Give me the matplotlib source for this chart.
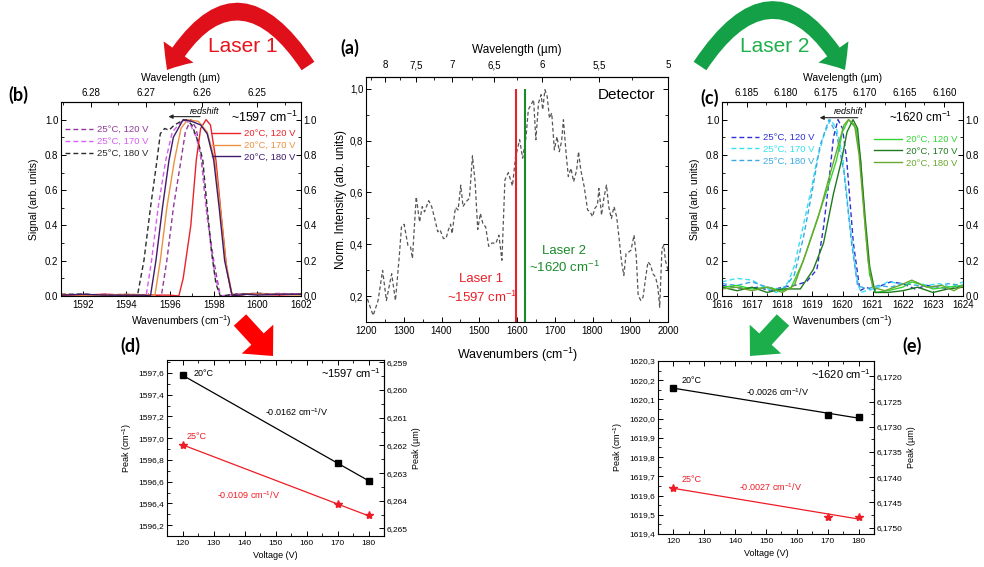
import numpy as np
import matplotlib
matplotlib.use('Agg')
import matplotlib.pyplot as plt
from matplotlib.patches import FancyArrowPatch
from matplotlib.ticker import MultipleLocator, FuncFormatter, FixedLocator

plt.rcParams['font.family'] = ['Liberation Sans', 'DejaVu Sans']
plt.rcParams['mathtext.fontset'] = 'custom'
plt.rcParams['mathtext.rm'] = 'Liberation Sans'
plt.rcParams['mathtext.it'] = 'Liberation Sans:italic'
plt.rcParams['xtick.direction'] = 'in'
plt.rcParams['ytick.direction'] = 'in'
plt.rcParams['axes.linewidth'] = 0.8

# ---------------- data ----------------
# (a) detector spectrum
det_wn = [1200, 1202, 1219, 1232, 1244, 1254, 1268, 1278, 1288, 1294, 1301, 1311, 1318, 1323,
          1333, 1342, 1349, 1355, 1366, 1374, 1383, 1390, 1396, 1405, 1412, 1418, 1424, 1428,
          1437, 1444, 1451, 1457, 1465, 1474, 1482, 1489, 1496, 1503, 1510, 1517, 1525, 1534,
          1544, 1552, 1560, 1568, 1577, 1588, 1596, 1607, 1615, 1624, 1630, 1637, 1644, 1650,
          1657, 1664, 1668, 1674, 1680, 1686, 1692, 1699, 1706, 1712, 1718, 1723, 1730, 1736,
          1743, 1750, 1758, 1763, 1769, 1778, 1787, 1794, 1800, 1806, 1813, 1817, 1824, 1830,
          1837, 1843, 1850, 1857, 1864, 1870, 1877, 1883, 1889, 1896, 1902, 1910, 1916, 1921,
          1928, 1934, 1941, 1947, 1954, 1960, 1967, 1973, 1978, 1984, 1989, 1993, 2000]
det_int = [0.18, 0.196, 0.125, 0.183, 0.299, 0.183, 0.286, 0.183, 0.351, 0.467, 0.477, 0.396, 0.39, 0.345,
           0.583, 0.486, 0.545, 0.525, 0.568, 0.545, 0.493, 0.448, 0.456, 0.422, 0.422, 0.454, 0.477, 0.441,
           0.542, 0.532, 0.628, 0.545, 0.564, 0.577, 0.741, 0.641, 0.457, 0.519, 0.477, 0.467, 0.392, 0.405,
           0.403, 0.435, 0.338, 0.648, 0.676, 0.625, 0.735, 0.803, 0.732, 0.815, 0.919, 0.938, 0.957, 0.803,
           0.945, 0.977, 0.919, 0.996, 0.97, 0.886, 0.906, 0.764, 0.815, 0.757, 0.796, 0.88, 0.751, 0.661,
           0.693, 0.641, 0.686, 0.757, 0.686, 0.622, 0.532, 0.525, 0.506, 0.538, 0.551, 0.615, 0.512, 0.577,
           0.628, 0.545, 0.499, 0.545, 0.506, 0.428, 0.332, 0.28, 0.364, 0.37, 0.377, 0.435, 0.351, 0.203,
           0.183, 0.196, 0.274, 0.332, 0.319, 0.286, 0.274, 0.235, 0.157, 0.383, 0.396, 0.338, 0.3]
laser1_wn = 1597
laser2_wn = 1620

# (b) laser 1 spectra
b_wn_25_120 = [1591, 1592, 1593, 1594, 1595, 1595.6, 1595.85, 1596.15, 1596.5, 1596.7, 1596.95, 1597.2,
               1597.45, 1597.7, 1598.0, 1598.3, 1599, 1600, 1601, 1602]
b_sig_25_120 = [0.005, 0.01, 0.005, 0.01, 0.005, 0.0, 0.2, 0.5, 0.77, 0.93, 1.0, 0.95,
                0.75, 0.45, 0.2, 0.0, 0.01, 0.015, 0.01, 0.01]
b_wn_25_170 = [1591, 1592, 1593, 1594, 1594.6, 1594.9, 1595.15, 1595.45, 1595.8, 1596.1, 1596.6, 1596.9,
               1597.2, 1597.45, 1597.65, 1597.85, 1598.05, 1598.3, 1599, 1600, 1601, 1602]
b_sig_25_170 = [0.01, 0.005, 0.01, 0.005, 0.005, 0.0, 0.2, 0.5, 0.77, 0.93, 1.0, 0.98,
                0.9, 0.77, 0.5, 0.3, 0.12, 0.0, 0.01, 0.01, 0.015, 0.01]
b_wn_25_180 = [1591, 1592, 1593, 1594, 1594.5, 1594.8, 1595.1, 1595.4, 1595.55, 1595.75, 1595.95, 1596.2,
               1596.5, 1596.75, 1597.0, 1597.3, 1597.5, 1597.7, 1597.9, 1598.1, 1598.3, 1599, 1600, 1601, 1602]
b_sig_25_180 = [0.01, 0.01, 0.005, 0.005, 0.0, 0.2, 0.5, 0.77, 0.92, 0.95, 0.94, 0.97,
                0.99, 1.0, 0.97, 0.87, 0.77, 0.5, 0.25, 0.07, 0.0, 0.01, 0.015, 0.01, 0.01]
b_wn_20_120 = [1591, 1592, 1593, 1594, 1595, 1596, 1596.4, 1596.6, 1596.95, 1597.2, 1597.4, 1597.65,
               1597.85, 1598.1, 1598.35, 1598.6, 1598.8, 1598.9, 1599.5, 1600, 1601, 1602]
b_sig_20_120 = [0.005, 0.005, 0.01, 0.005, 0.005, 0.005, 0.0, 0.1, 0.4, 0.77, 0.95, 1.0,
                0.97, 0.77, 0.45, 0.15, 0.02, 0.0, 0.01, 0.01, 0.005, 0.01]
b_wn_20_170 = [1591, 1592, 1593, 1594, 1595, 1595.3, 1595.55, 1595.85, 1596.2, 1596.5, 1596.8, 1597.3,
               1597.7, 1598.05, 1598.3, 1598.55, 1598.85, 1599.5, 1600, 1601, 1602]
b_sig_20_170 = [0.01, 0.005, 0.005, 0.01, 0.005, 0.0, 0.2, 0.5, 0.77, 0.95, 1.0, 0.99,
                0.93, 0.77, 0.5, 0.2, 0.0, 0.01, 0.01, 0.01, 0.005]
b_wn_20_180 = [1591, 1592, 1593, 1594, 1594.8, 1595.1, 1595.35, 1595.65, 1595.95, 1596.15, 1596.6, 1597.0,
               1597.4, 1597.7, 1598.0, 1598.25, 1598.5, 1598.85, 1599.5, 1600, 1601, 1602]
b_sig_20_180 = [0.005, 0.01, 0.005, 0.005, 0.005, 0.0, 0.2, 0.5, 0.77, 0.9, 1.0, 0.99,
                0.97, 0.92, 0.77, 0.5, 0.2, 0.0, 0.01, 0.005, 0.01, 0.01]

# (c) laser 2 spectra
c_wn_25_120 = [1616, 1616.4, 1616.8, 1617.2, 1617.6, 1618.0, 1618.4, 1618.8, 1619.15, 1619.37, 1619.53, 1619.7,
               1619.85, 1620.0, 1620.14, 1620.36, 1620.58, 1620.8, 1621.0, 1621.3, 1621.6, 1622.0, 1622.4,
               1622.8, 1623.2, 1623.6, 1624]
c_sig_25_120 = [0.06, 0.05, 0.04, 0.05, 0.03, 0.05, 0.06, 0.08, 0.15, 0.39, 0.62, 0.9,
                1.0, 0.95, 0.77, 0.3, 0.03, 0.05, 0.03, 0.06, 0.08, 0.07, 0.04, 0.06, 0.05, 0.04, 0.06]
c_wn_25_170 = [1616, 1616.5, 1617.0, 1617.4, 1617.8, 1618.0, 1618.2, 1618.4, 1618.7, 1618.98, 1619.15, 1619.4,
               1619.6, 1619.8, 1620.0, 1620.25, 1620.45, 1620.6, 1620.8, 1621.2, 1621.5, 1622.0, 1622.4,
               1622.8, 1623.2, 1623.6, 1624]
c_sig_25_170 = [0.08, 0.1, 0.09, 0.05, 0.02, 0.04, 0.08, 0.17, 0.4, 0.62, 0.77, 0.92,
                1.0, 0.95, 0.8, 0.4, 0.12, 0.02, 0.03, 0.05, 0.08, 0.07, 0.08, 0.06, 0.07, 0.05, 0.08]
c_wn_25_180 = [1616, 1616.5, 1617.0, 1617.5, 1617.9, 1618.1, 1618.4, 1618.7, 1619.0, 1619.25, 1619.55, 1619.8,
               1620.05, 1620.3, 1620.5, 1620.8, 1621.2, 1621.6, 1622.0, 1622.5, 1623.0, 1623.5, 1624]
c_sig_25_180 = [0.07, 0.06, 0.08, 0.05, 0.04, 0.05, 0.12, 0.33, 0.6, 0.85, 1.0, 0.92,
                0.7, 0.3, 0.06, 0.04, 0.06, 0.05, 0.07, 0.06, 0.05, 0.07, 0.06]
c_wn_20_120 = [1616, 1616.5, 1617, 1617.5, 1618, 1618.3, 1618.7, 1619.15, 1619.6, 1619.8, 1620.0, 1620.2,
               1620.45, 1620.6, 1620.75, 1620.9, 1621.1, 1621.5, 1622, 1622.3, 1622.7, 1623, 1623.5, 1624]
c_sig_20_120 = [0.05, 0.06, 0.04, 0.05, 0.03, 0.05, 0.2, 0.43, 0.66, 0.77, 0.93, 1.0,
                0.95, 0.77, 0.4, 0.12, 0.02, 0.03, 0.05, 0.08, 0.06, 0.04, 0.05, 0.06]
c_wn_20_170 = [1616, 1616.5, 1617, 1617.5, 1618, 1618.6, 1619.03, 1619.37, 1619.7, 1619.97, 1620.15, 1620.35,
               1620.5, 1620.6, 1620.75, 1620.9, 1621.08, 1621.5, 1622, 1622.5, 1623, 1623.5, 1624]
c_sig_20_170 = [0.05, 0.03, 0.05, 0.02, 0.04, 0.04, 0.15, 0.3, 0.58, 0.77, 0.93, 1.0,
                0.95, 0.77, 0.45, 0.17, 0.02, 0.02, 0.03, 0.05, 0.02, 0.04, 0.05]
c_wn_20_180 = [1616, 1616.5, 1617, 1617.5, 1618, 1618.4, 1618.8, 1619.2, 1619.6, 1619.85, 1620.05, 1620.2,
               1620.4, 1620.55, 1620.7, 1620.85, 1621.0, 1621.4, 1621.9, 1622.3, 1622.8, 1623.3, 1623.7, 1624]
c_sig_20_180 = [0.04, 0.05, 0.03, 0.05, 0.02, 0.06, 0.25, 0.45, 0.7, 0.85, 0.97, 1.0,
                0.97, 0.8, 0.5, 0.2, 0.05, 0.03, 0.06, 0.09, 0.05, 0.06, 0.03, 0.06]

# (d), (e) peak position vs voltage
voltage = [120, 170, 180]
d_peak_20 = [1597.58, 1596.77, 1596.61]
d_peak_25 = [1596.94, 1596.39, 1596.29]
e_peak_20 = [1620.16, 1620.02, 1620.01]
e_peak_25 = [1619.64, 1619.49, 1619.49]

# ---------------- helpers ----------------
W, H = 984, 567


def fx(x):
    return x / W


def fy(y):
    return 1 - y / H


def comma(fmt):
    return FuncFormatter(lambda v, p: (fmt % v).replace('.', ','))


def inv(x):
    x = np.asarray(x, dtype=float)
    with np.errstate(divide='ignore', invalid='ignore'):
        return 1e4 / x


def ticks(ax, size=7, pad=2):
    ax.tick_params(which='major', length=3.5, width=0.7, labelsize=size, pad=pad)
    ax.tick_params(which='minor', length=2, width=0.6)


fig = plt.figure(figsize=(9.84, 5.67), dpi=100)

DASH = (0, (3.5, 2.2))
cm1 = 'cm$^{-1}$'

# ---------------- (b) ----------------
axb = fig.add_axes([fx(61), fy(296), 240 / W, 194 / H])
b_curves = [
    (b_wn_25_120, b_sig_25_120, '#93399b', DASH, '25°C, 120 V'),
    (b_wn_25_170, b_sig_25_170, '#d65ef0', DASH, '25°C, 170 V'),
    (b_wn_25_180, b_sig_25_180, '#2b2b2b', DASH, '25°C, 180 V'),
    (b_wn_20_120, b_sig_20_120, '#e8232b', '-', '20°C, 120 V'),
    (b_wn_20_170, b_sig_20_170, '#eb9240', '-', '20°C, 170 V'),
    (b_wn_20_180, b_sig_20_180, '#3f1b6c', '-', '20°C, 180 V'),
]
lb = []
for wn, s, c, ls, lab in b_curves:
    l, = axb.plot(wn, s, color=c, ls=ls, lw=1.0, label=lab)
    lb.append(l)
axb.set_xlim(1591, 1602)
axb.set_ylim(0, 1.1)
axb.xaxis.set_major_locator(MultipleLocator(2))
axb.xaxis.set_minor_locator(MultipleLocator(1))
axb.yaxis.set_major_locator(FixedLocator([0, 0.2, 0.4, 0.6, 0.8, 1.0]))
axb.yaxis.set_minor_locator(FixedLocator([0.1, 0.3, 0.5, 0.7, 0.9]))
axb.yaxis.set_major_formatter(FuncFormatter(lambda v, p: '%.1f' % v))
axb.tick_params(which='both', right=True, labelright=True)
ticks(axb)
axb.tick_params(axis='x', pad=3)
axb.set_xlabel('Wavenumbers (' + cm1 + ')', fontsize=7.5, labelpad=2)
axb.set_ylabel('Signal (arb. units)', fontsize=7.5, labelpad=4)
sb = axb.secondary_xaxis('top', functions=(inv, inv))
sb.set_xticks([6.28, 6.27, 6.26, 6.25])
sb.xaxis.set_minor_locator(FixedLocator([6.285, 6.275, 6.265, 6.255, 6.245]))
sb.xaxis.set_major_formatter(FuncFormatter(lambda v, p: '%.2f' % v))
ticks(sb, pad=3)
sb.set_xlabel('Wavelength (µm)', fontsize=7.5, labelpad=5)
leg1 = axb.legend(handles=lb[:3], loc='upper left', bbox_to_anchor=(0.0, 0.9), frameon=False,
                  fontsize=6.8, handlelength=3.0, handletextpad=0.4, labelspacing=0.3,
                  borderaxespad=0, labelcolor='linecolor')
axb.add_artist(leg1)
axb.legend(handles=lb[3:], loc='upper right', bbox_to_anchor=(1.0, 0.89), frameon=False,
           fontsize=6.8, handlelength=3.0, handletextpad=0.4, labelspacing=0.3,
           borderaxespad=0.2, labelcolor='linecolor')
axb.annotate('', xy=(1595.8, 1.017), xytext=(1597.5, 1.017),
             arrowprops=dict(arrowstyle='-|>', lw=0.8, color='#222222', mutation_scale=6))
axb.text(1597.6, 1.045, 'redshift', fontsize=6.5, style='italic', ha='center', va='center')
axb.text(1600.3, 1.01, '~1597 ' + cm1, fontsize=9, ha='center', va='center')

# ---------------- (a) ----------------
axa = fig.add_axes([fx(366), fy(322), 302 / W, 245 / H])
axa.plot(det_wn, det_int, color='#555555', ls=(0, (3, 2)), lw=0.9)
axa.vlines(laser1_wn, 0.1, 1.0, color='#e8202a', lw=1.5)
axa.vlines(laser2_wn, 0.1, 1.0, color='#1a8a2a', lw=1.5)
axa.set_xlim(1200, 2000)
axa.set_ylim(0.1, 1.045)
axa.xaxis.set_major_locator(MultipleLocator(100))
axa.xaxis.set_minor_locator(MultipleLocator(50))
axa.yaxis.set_major_locator(FixedLocator([0.2, 0.4, 0.6, 0.8, 1.0]))
axa.yaxis.set_minor_locator(FixedLocator([0.3, 0.5, 0.7, 0.9]))
axa.yaxis.set_major_formatter(comma('%.1f'))
axa.tick_params(which='both', right=True)
ticks(axa)
axa.tick_params(axis='x', pad=3)
axa.set_xlabel('Wavenumbers (' + cm1 + ')', fontsize=9, labelpad=7)
axa.set_ylabel('Norm. Intensity (arb. units)', fontsize=8.5, labelpad=2)
sa = axa.secondary_xaxis('top', functions=(inv, inv))
sa.set_xticks([8, 7.5, 7, 6.5, 6, 5.5, 5])
sa.xaxis.set_minor_locator(FixedLocator([8.25, 7.75, 7.25, 6.75, 6.25, 5.75, 5.25]))
sa.xaxis.set_major_formatter(comma('%g'))
ticks(sa, pad=5)
sa.set_xlabel('Wavelength (µm)', fontsize=8.5, labelpad=5)
axa.text(1890, 0.976, 'Detector', fontsize=11, ha='center', va='center')
axa.text(1506, 0.266, 'Laser 1', color='#e8202a', fontsize=9.5, ha='center', va='center')
axa.text(1508, 0.193, '~1597 ' + cm1, color='#e8202a', fontsize=9.5, ha='center', va='center')
axa.text(1725, 0.375, 'Laser 2', color='#1a8a2a', fontsize=9.5, ha='center', va='center')
axa.text(1725, 0.311, '~1620 ' + cm1, color='#1a8a2a', fontsize=9.5, ha='center', va='center')

# ---------------- (c) ----------------
axc = fig.add_axes([fx(722), fy(296), 241 / W, 194 / H])
c_curves = [
    (c_wn_25_120, c_sig_25_120, '#2f2fd6', DASH, '25°C, 120 V'),
    (c_wn_25_170, c_sig_25_170, '#35e1f2', DASH, '25°C, 170 V'),
    (c_wn_25_180, c_sig_25_180, '#3aa9e2', DASH, '25°C, 180 V'),
    (c_wn_20_120, c_sig_20_120, '#33d433', '-', '20°C, 120 V'),
    (c_wn_20_170, c_sig_20_170, '#1f7a1f', '-', '20°C, 170 V'),
    (c_wn_20_180, c_sig_20_180, '#6aa82e', '-', '20°C, 180 V'),
]
lc = []
for wn, s, c, ls, lab in c_curves:
    l, = axc.plot(wn, s, color=c, ls=ls, lw=1.0, label=lab)
    lc.append(l)
axc.set_xlim(1616, 1624)
axc.set_ylim(0, 1.1)
axc.xaxis.set_major_locator(MultipleLocator(1))
axc.xaxis.set_minor_locator(MultipleLocator(0.5))
axc.yaxis.set_major_locator(FixedLocator([0, 0.2, 0.4, 0.6, 0.8, 1.0]))
axc.yaxis.set_minor_locator(FixedLocator([0.1, 0.3, 0.5, 0.7, 0.9]))
axc.yaxis.set_major_formatter(FuncFormatter(lambda v, p: '%.1f' % v))
axc.tick_params(which='both', right=True, labelright=True)
ticks(axc)
axc.tick_params(axis='x', pad=3)
axc.set_xlabel('Wavenumbers (' + cm1 + ')', fontsize=7.5, labelpad=2)
axc.set_ylabel('Signal (arb. units)', fontsize=7.5, labelpad=4)
sc = axc.secondary_xaxis('top', functions=(inv, inv))
sc.set_xticks([6.185, 6.180, 6.175, 6.170, 6.165, 6.160])
sc.xaxis.set_minor_locator(FixedLocator([6.1875, 6.1825, 6.1775, 6.1725, 6.1675, 6.1625, 6.1575]))
sc.xaxis.set_major_formatter(FuncFormatter(lambda v, p: '%.3f' % v))
ticks(sc, pad=3)
sc.set_xlabel('Wavelength (µm)', fontsize=7.5, labelpad=5)
leg2 = axc.legend(handles=lc[:3], loc='upper left', bbox_to_anchor=(0.02, 0.86), frameon=False,
                  fontsize=6.8, handlelength=3.0, handletextpad=0.4, labelspacing=0.3,
                  borderaxespad=0, labelcolor='linecolor')
axc.add_artist(leg2)
axc.legend(handles=lc[3:], loc='upper right', bbox_to_anchor=(1.0, 0.86), frameon=False,
           fontsize=6.8, handlelength=3.0, handletextpad=0.4, labelspacing=0.3,
           borderaxespad=0.2, labelcolor='linecolor')
axc.annotate('', xy=(1619.15, 1.011), xytext=(1620.6, 1.011),
             arrowprops=dict(arrowstyle='-|>', lw=0.8, color='#222222', mutation_scale=6))
axc.text(1620.2, 1.045, 'redshift', fontsize=6.5, style='italic', ha='center', va='center')
axc.text(1622.6, 1.01, '~1620 ' + cm1, fontsize=8.5, ha='center', va='center')


# ---------------- (d), (e) ----------------
def peak_panel(rect, p20, p25, ylim, ymaj, ymin, yfmt, wmaj, wmin, wfmt, texts):
    ax = fig.add_axes(rect)
    for p, c, m, ms in [(p20, 'k', 's', 4.5), (p25, '#ee1c24', '*', 6)]:
        k, b0 = np.polyfit(voltage, p, 1)
        vv = np.array([min(voltage), max(voltage)])
        ax.plot(vv, k * vv + b0, color=c, lw=0.9)
        ax.plot(voltage, p, ls='none', marker=m, color=c, ms=ms)
    ax.set_xlim(115, 185)
    ax.set_ylim(*ylim)
    ax.xaxis.set_major_locator(MultipleLocator(10))
    ax.xaxis.set_minor_locator(MultipleLocator(5))
    ax.yaxis.set_major_locator(MultipleLocator(ymaj))
    ax.yaxis.set_minor_locator(MultipleLocator(ymin))
    ax.yaxis.set_major_formatter(comma(yfmt))
    ax.tick_params(which='both', top=True)
    ticks(ax, 6)
    ax.tick_params(axis='x', pad=3)
    ax.set_xlabel('Voltage (V)', fontsize=6.5, labelpad=3)
    ax.set_ylabel('Peak (' + cm1 + ')', fontsize=6.5, labelpad=3)
    s = ax.secondary_yaxis('right', functions=(inv, inv))
    s.yaxis.set_major_locator(FixedLocator(wmaj))
    s.yaxis.set_minor_locator(FixedLocator(wmin))
    s.yaxis.set_major_formatter(comma(wfmt))
    ticks(s, 6)
    s.set_ylabel('Peak (µm)', fontsize=6.5, labelpad=3)
    for x, y, t, c, ha, fs in texts:
        ax.text(x, y, t, color=c, ha=ha, va='center', fontsize=fs)
    return ax


d_wmaj = [6.259, 6.260, 6.261, 6.262, 6.263, 6.264, 6.265]
d_wmin = [6.2595, 6.2605, 6.2615, 6.2625, 6.2635, 6.2645]
peak_panel([fx(167), fy(536), 217 / W, 176 / H], d_peak_20, d_peak_25, (1596.1, 1597.72),
           0.2, 0.1, '%.1f', d_wmaj, d_wmin, '%.3f',
           [(123.7, 1597.6, '20°C', 'k', 'left', 6.5),
            (121.4, 1597.02, '25°C', '#ee1c24', 'left', 6.5),
            (156.8, 1597.24, '-0.0162 ' + cm1 + '/V', 'k', 'center', 6.5),
            (141.2, 1596.48, '-0.0109 ' + cm1 + '/V', '#ee1c24', 'center', 6.5),
            (174.2, 1597.6, '~1597 ' + cm1, 'k', 'center', 8)])

e_wmaj = [6.1720, 6.1725, 6.1730, 6.1735, 6.1740, 6.1745, 6.1750]
e_wmin = [6.17225, 6.17275, 6.17325, 6.17375, 6.17425, 6.17475]
peak_panel([fx(658), fy(534), 216 / W, 173 / H], e_peak_20, e_peak_25, (1619.4, 1620.3),
           0.1, 0.05, '%.1f', e_wmaj, e_wmin, '%.4f',
           [(122.7, 1620.2, '20°C', 'k', 'left', 6.5),
            (122.7, 1619.685, '25°C', '#ee1c24', 'left', 6.5),
            (153.7, 1620.136, '-0.0026 ' + cm1 + '/V', 'k', 'center', 6.5),
            (151.5, 1619.646, '-0.0027 ' + cm1 + '/V', '#ee1c24', 'center', 6.5),
            (174.3, 1620.23, '~1620 ' + cm1, 'k', 'center', 8)])

# ---------------- decorations ----------------
for t, x, y in [('(b)', 18, 95), ('(a)', 350, 48), ('(c)', 710, 98), ('(d)', 130, 346), ('(e)', 912, 346)]:
    fig.text(fx(x), fy(y), t, fontsize=13, fontweight='bold', ha='center', va='center', family='Lato')

fig.text(fx(243), fy(47), 'Laser 1', color='#e8141c', fontsize=15, ha='center', va='center')
fig.text(fx(775), fy(47), 'Laser 2', color='#1fb04b', fontsize=15, ha='center', va='center')

big = 'simple, head_length=1.4, head_width=2.4, tail_width=1.0'
fig.patches.append(FancyArrowPatch((fx(308), fy(66)), (fx(167), fy(70)), transform=fig.transFigure,
                                   connectionstyle='arc3,rad=0.8', arrowstyle=big, mutation_scale=11,
                                   color='#e0101a', lw=0, shrinkA=0, shrinkB=0))
fig.patches.append(FancyArrowPatch((fx(700), fy(66)), (fx(845), fy(70)), transform=fig.transFigure,
                                   connectionstyle='arc3,rad=-0.8', arrowstyle=big, mutation_scale=11,
                                   color='#14a046', lw=0, shrinkA=0, shrinkB=0))
small = 'simple, head_length=1.5, head_width=2.8, tail_width=1.1'
fig.patches.append(FancyArrowPatch((fx(240), fy(320)), (fx(273), fy(356)), transform=fig.transFigure,
                                   arrowstyle=small, mutation_scale=11, color='#ff0000', lw=0,
                                   shrinkA=0, shrinkB=0))
fig.patches.append(FancyArrowPatch((fx(783), fy(320)), (fx(750), fy(356)), transform=fig.transFigure,
                                   arrowstyle=small, mutation_scale=11, color='#1cae4a', lw=0,
                                   shrinkA=0, shrinkB=0))

fig.savefig('out.png', dpi=100)
